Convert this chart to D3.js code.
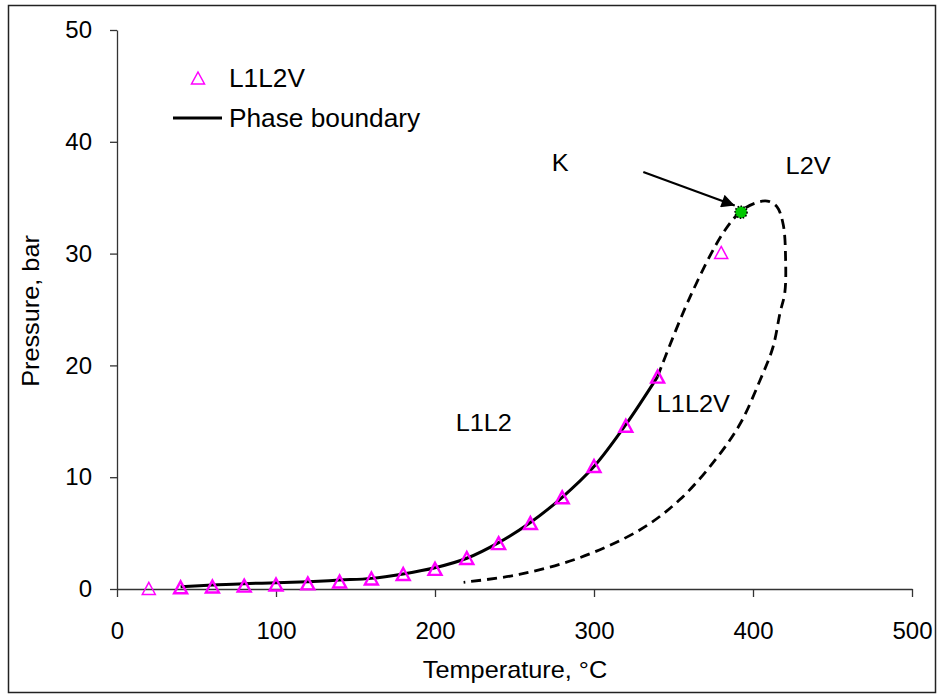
<!DOCTYPE html>
<html>
<head>
<meta charset="utf-8">
<script src="https://cdn.jsdelivr.net/npm/d3@7"></script>
<style>
  html, body { margin: 0; padding: 0; background: #fff; }
  svg text { font-family: "Liberation Sans", Arial, sans-serif; fill: #000; }
</style>
</head>
<body>
<svg id="chart" width="938" height="694"></svg>
<script>
// Measured three-phase (L1L2V) points: temperature (°C) and pressure (bar)
const l1l2vTemp = [20, 40, 60, 80, 100, 120, 140, 160, 180, 200, 220, 240, 260, 280, 300, 320, 340, 380];
const l1l2vPres = [0.05, 0.15, 0.22, 0.3, 0.4, 0.5, 0.67, 0.94, 1.34, 1.8, 2.77, 4.1, 5.9, 8.2, 11.0, 14.6, 19.0, 30.1];

// Solid phase boundary (L1L2V / L1L2)
const boundaryTemp = [40, 60, 80, 100, 120, 140, 160, 180, 200, 220, 240, 260, 280, 300, 320, 340];
const boundaryPres = [0.2, 0.35, 0.48, 0.55, 0.65, 0.8, 0.95, 1.35, 1.9, 2.75, 4.15, 5.95, 8.2, 10.95, 14.7, 19.0];

// Estimated (dashed) continuation of the three-phase region loop
const dashedTemp = [340, 360, 381, 392.5, 401, 409, 415, 419, 420.5, 420, 417, 412.5, 404.5, 392, 376, 354, 329, 291, 253, 218];
const dashedPres = [19.0, 26.0, 31.8, 33.8, 34.5, 34.7, 34.2, 32.6, 29.5, 26.5, 24.7, 21.6, 18.7, 14.8, 11.5, 8.0, 5.3, 2.8, 1.3, 0.6];

// Critical end point K
const kTemp = 392.5, kPres = 33.7;

// Axis ticks
const xTicks = [0, 100, 200, 300, 400, 500];
const yTicks = [0, 10, 20, 30, 40, 50];

const svg = d3.select("#chart");

// Outer frame
svg.append("rect")
  .attr("x", 8.5).attr("y", 5.5).attr("width", 927).attr("height", 687)
  .attr("fill", "#fff").attr("stroke", "#222").attr("stroke-width", 1.5);

const plot = { left: 117, right: 912, top: 30, bottom: 589 };
const x = d3.scaleLinear().domain([0, 500]).range([plot.left, plot.right]);
const y = d3.scaleLinear().domain([0, 50]).range([plot.bottom, plot.top]);

// Text drawn with a slightly widened face
function wideText(parent, str, px, py, size, stretch, anchor) {
  return parent.append("text")
    .attr("transform", `translate(${px},${py}) scale(${stretch},1)`)
    .attr("text-anchor", anchor || "start")
    .style("font-size", size + "px")
    .text(str);
}

// Axes
const tickFont = 24;
const xAxis = svg.append("g")
  .attr("transform", `translate(0,${plot.bottom})`)
  .call(d3.axisBottom(x).tickValues(xTicks).tickFormat(d3.format("d"))
    .tickSize(8).tickSizeOuter(0).tickPadding(25));
const yAxis = svg.append("g")
  .attr("transform", `translate(${plot.left},0)`)
  .call(d3.axisLeft(y).tickValues(yTicks).tickFormat(d3.format("d"))
    .tickSize(7).tickSizeOuter(0).tickPadding(18));
[xAxis, yAxis].forEach(g => {
  g.selectAll("path.domain").attr("stroke", "#333").attr("stroke-width", 1.3);
  g.selectAll(".tick line").attr("stroke", "#333").attr("stroke-width", 1.3);
  g.selectAll(".tick text")
    .style("font-family", '"Liberation Sans", Arial, sans-serif')
    .style("font-size", tickFont + "px").attr("fill", "#000");
});

// Axis titles
wideText(svg, "Temperature, °C", 515, 678, 23, 1.1, "middle");
svg.append("text")
  .attr("transform", "translate(39,311) rotate(-90) scale(1.1,1)")
  .attr("text-anchor", "middle")
  .style("font-size", "23px")
  .text("Pressure, bar");

const line = d3.line()
  .x(d => x(d[0])).y(d => y(d[1]))
  .curve(d3.curveCatmullRom.alpha(0.5));

// Dashed loop
svg.append("path")
  .datum(dashedTemp.map((t, i) => [t, dashedPres[i]]))
  .attr("d", line)
  .attr("fill", "none").attr("stroke", "#000")
  .attr("stroke-width", 2.8).attr("stroke-dasharray", "10,6");

// Solid boundary
svg.append("path")
  .datum(boundaryTemp.map((t, i) => [t, boundaryPres[i]]))
  .attr("d", line)
  .attr("fill", "none").attr("stroke", "#000")
  .attr("stroke-width", 3);

// Triangle marker path centred on its bounding box
const triW = 13, triH = 12;
const triPath = `M0,${-triH / 2}L${triW / 2},${triH / 2}L${-triW / 2},${triH / 2}Z`;
const onBoundary = t => t >= d3.min(boundaryTemp) && t <= d3.max(boundaryTemp);

svg.append("g").selectAll("path")
  .data(l1l2vTemp.map((t, i) => [t, l1l2vPres[i]]))
  .join("path")
  .attr("d", triPath)
  .attr("transform", d => `translate(${x(d[0])},${y(d[1])})`)
  .attr("fill", "none").attr("stroke", "#ff00ff")
  .attr("stroke-width", d => onBoundary(d[0]) ? 2.4 : 1.5);

// Arrow pointing to K
svg.append("defs").append("marker")
  .attr("id", "arrowhead")
  .attr("viewBox", "0 0 10 10")
  .attr("refX", 10).attr("refY", 5)
  .attr("markerWidth", 7).attr("markerHeight", 6)
  .attr("markerUnits", "strokeWidth")
  .attr("orient", "auto")
  .append("path").attr("d", "M0,0L10,5L0,10Z").attr("fill", "#000");

svg.append("line")
  .attr("x1", x(331)).attr("y1", y(37.3))
  .attr("x2", x(388.5)).attr("y2", y(34.3))
  .attr("stroke", "#000").attr("stroke-width", 2.2)
  .attr("marker-end", "url(#arrowhead)");

// Point K
svg.append("circle")
  .attr("cx", x(kTemp)).attr("cy", y(kPres)).attr("r", 6)
  .attr("fill", "#00c800").attr("stroke", "#000")
  .attr("stroke-width", 1.6).attr("stroke-dasharray", "1.5,1.5");

// Region labels
const labels = [
  { text: "K", t: 273.5, p: 37.4 },
  { text: "L2V", t: 420.5, p: 37.1 },
  { text: "L1L2", t: 213, p: 14.1 },
  { text: "L1L2V", t: 339.5, p: 15.8 }
];
const labelGroup = svg.append("g");
labels.forEach(d => wideText(labelGroup, d.text, x(d.t), y(d.p), 23, 1.1));

// Legend
const legend = svg.append("g");
legend.append("path")
  .attr("d", triPath)
  .attr("transform", "translate(198,78)")
  .attr("fill", "none").attr("stroke", "#ff00ff").attr("stroke-width", 1.5);
wideText(legend, "L1L2V", 229, 87, 25, 1.05);
legend.append("line")
  .attr("x1", 173).attr("x2", 222).attr("y1", 118).attr("y2", 118)
  .attr("stroke", "#000").attr("stroke-width", 3);
wideText(legend, "Phase boundary", 229, 127, 25, 1.05);
</script>
</body>
</html>
